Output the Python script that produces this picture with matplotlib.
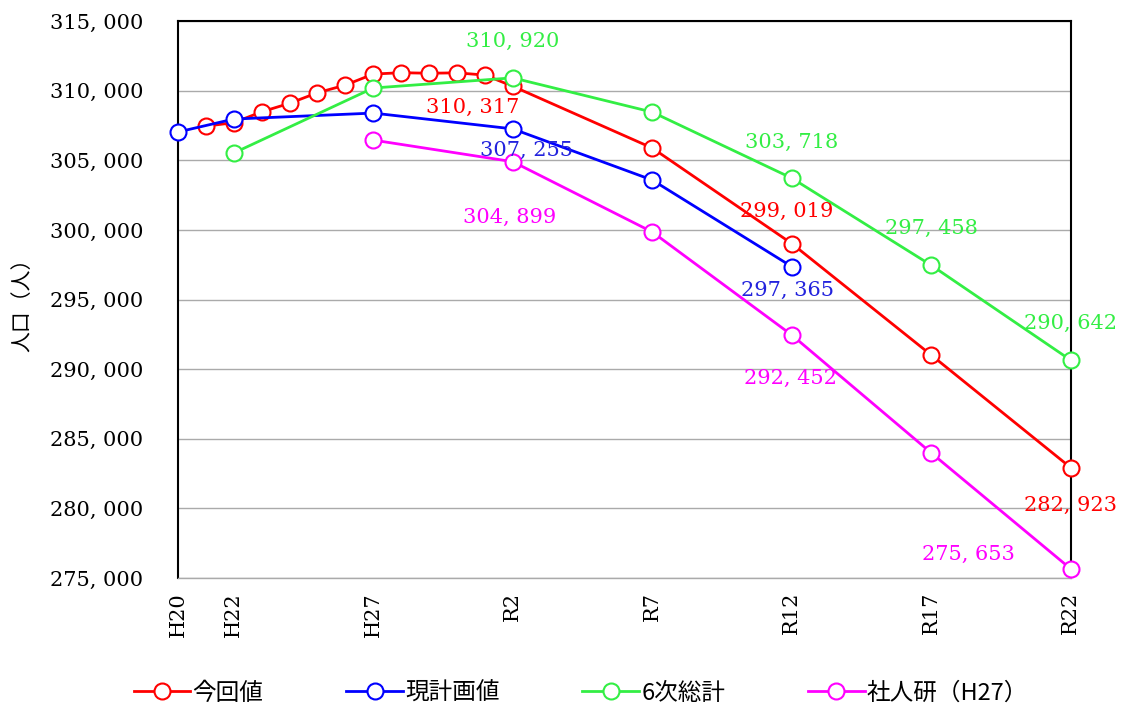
import numpy as np
import matplotlib
matplotlib.use("Agg")
import matplotlib.pyplot as plt
from matplotlib.ticker import FuncFormatter

# 年（西暦）と軸ラベル
tick_years = [2008, 2010, 2015, 2020, 2025, 2030, 2035, 2040]
tick_labels = ["H20", "H22", "H27", "R2", "R7", "R12", "R17", "R22"]

# 今回値
red_years = [2009, 2010, 2011, 2012, 2013, 2014, 2015, 2016, 2017, 2018, 2019,
             2020, 2025, 2030, 2035, 2040]
red_vals = [307450, 307700, 308480, 309090, 309850, 310400, 311190, 311290,
            311250, 311280, 311120, 310317, 305880, 299019, 291010, 282923]

# 現計画値
blue_years = [2008, 2010, 2015, 2020, 2025, 2030]
blue_vals = [307030, 307960, 308390, 307255, 303580, 297365]

# 6次総計
green_years = [2010, 2015, 2020, 2025, 2030, 2035, 2040]
green_vals = [305520, 310190, 310920, 308460, 303718, 297458, 290642]

# 社人研（H27）
mag_years = [2015, 2020, 2025, 2030, 2035, 2040]
mag_vals = [306450, 304899, 299850, 292452, 283980, 275653]

series = [
    ("今回値", red_years, red_vals, "#ff0000"),
    ("現計画値", blue_years, blue_vals, "#0000ff"),
    ("6次総計", green_years, green_vals, "#33ee44"),
    ("社人研（H27）", mag_years, mag_vals, "#ff00ff"),
]

# データラベル: (系列番号, 年, 表示オフセット px)
labels = [
    (2, 2020, (0, 36)), (0, 2020, (-40, -21)), (1, 2020, (14, -22)), (3, 2020, (-3, -56)),
    (2, 2030, (0, 36)), (0, 2030, (-5, 32)), (1, 2030, (-4, -24)), (3, 2030, (-1, -43)),
    (2, 2035, (0, 37)),
    (2, 2040, (0, 37)), (0, 2040, (0, -38)), (3, 2040, (-102, 15)),
]
label_colors = ["#ff0000", "#2222dd", "#33ee44", "#ff00ff"]

num_font = "DejaVu Serif"
jp_font = ["Noto Sans CJK JP", "DejaVu Sans"]


def fmt(v, pos=None):
    return f"{v:,.0f}".replace(",", ", ")


fig = plt.figure(figsize=(11.26, 7.13), dpi=100)
ax = fig.add_axes([0.158, 0.1893, 0.793, 0.7812])

for name, xs, ys, c in series:
    ax.plot(xs, ys, color=c, lw=2.0, marker="o", ms=11.5, mfc="white",
            mec=c, mew=1.5, label=name, clip_on=False, zorder=3)

for si, yr, off in labels:
    name, xs, ys, c = series[si]
    v = ys[xs.index(yr)]
    ax.annotate(fmt(v), (yr, v), xytext=off, textcoords="offset pixels",
                ha="center", va="center", color=label_colors[si],
                fontsize=15, family=num_font, zorder=5)

ax.set_xlim(2008, 2040)
ax.set_ylim(275000, 315000)
ax.set_yticks(np.arange(275000, 315001, 5000))
ax.yaxis.set_major_formatter(FuncFormatter(fmt))
ax.set_xticks(tick_years)
ax.set_xticklabels(tick_labels, rotation=90)
ax.tick_params(axis="both", length=0, labelsize=15)
ax.tick_params(axis="y", pad=25)
ax.tick_params(axis="x", pad=10)
for lab in ax.get_xticklabels() + ax.get_yticklabels():
    lab.set_family(num_font)

ax.grid(axis="y", color="#aaaaaa", lw=1.0)
ax.set_axisbelow(True)
for s in ["left", "top", "right"]:
    ax.spines[s].set_color("black")
    ax.spines[s].set_linewidth(1.5)
ax.spines["bottom"].set_color("#aaaaaa")
ax.spines["bottom"].set_linewidth(1.0)

ax.set_ylabel("人口（人）", family=jp_font, fontsize=15, labelpad=12)

fig.legend(loc="center", bbox_to_anchor=(0.516, 0.028), ncol=4, frameon=False,
           prop={"family": jp_font, "size": 17}, handlelength=2.4,
           handletextpad=0.1, columnspacing=3.5)

fig.savefig("out.png", dpi=100)
